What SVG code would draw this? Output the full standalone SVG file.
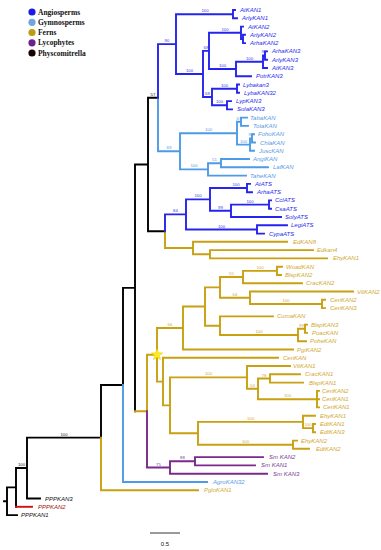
<svg xmlns="http://www.w3.org/2000/svg" width="381" height="550" viewBox="0 0 381 550">
<style>
.e{fill:none;stroke-width:1.9;stroke-linecap:square}
.k{stroke:#000}.r{stroke:#d01010}.b{stroke:#2424ee}.lb{stroke:#4d9be6}.g{stroke:#c8a010}.p{stroke:#7a2a8c}
.t{font-family:"Liberation Sans",Arial,sans-serif;font-style:italic;font-size:6px}
.tb{fill:#2a2aee}.tlb{fill:#5a9ae6}.tg{fill:#d2a830}.tp{fill:#7b3d93}.tk{fill:#111}.tr{fill:#a01010}
.s{font-family:"Liberation Sans",Arial,sans-serif;font-size:4.3px;text-anchor:middle}
.sb{fill:#3a3aee}.slb{fill:#5a9ae6}.sg{fill:#d6a640}.sp{fill:#7b3d93}.sk{fill:#222}
.lg{font-family:"Liberation Serif","Times New Roman",serif;font-weight:bold;font-size:7.5px;fill:#111}
</style>
<g id="legend">
<circle cx="32" cy="12" r="3.6" fill="#1a1ae6"/><text class="lg" x="38" y="14.6">Angiosperms</text>
<circle cx="32" cy="22.3" r="3.6" fill="#6fa6e0"/><text class="lg" x="38" y="24.9">Gymnosperms</text>
<circle cx="32" cy="32.5" r="3.6" fill="#b89e10"/><text class="lg" x="38" y="35.1">Ferns</text>
<circle cx="32" cy="42.8" r="3.6" fill="#6a2090"/><text class="lg" x="38" y="45.4">Lycophytes</text>
<circle cx="32" cy="53" r="3.6" fill="#1a0000"/><text class="lg" x="38" y="55.6">Physcomitrella</text>
</g>
<g id="connectors">
<path class="e k" d="M4,501.2H7M7,487.4V515.1M7,515.1H17M7,487.4H16M16,468V506.8M16,468H27M27,437.6V498.5M27,498.5H40M27,437.6H101M101,385V437.6M101,385H123M123,287.9V385M123,287.9H135M135,164.5V411.2M135,164.5H148M148,97.7V231.2M148,97.7H158M148,231.2H165"/>
<path class="e r" d="M16,506.8H32"/>
<path class="e g" d="M101,437.6V490.2M101,490.2H198M135,411.2H147M147,354.8V411.2M147,354.8H157M157,328V381.6M157,328H183M183,306.5V349.5M183,306.5H205M183,349.5H293M205,287.4V325.7M205,287.4H220M205,325.7H220M220,277V297.7M220,277H243M220,297.7H250M243,270.9V283.2M243,270.9H277M243,283.2H302M277,266.7V275M277,266.7H282M277,275H281M250,291.5V304M250,291.5H353M250,304H322M322,299.8V308.1M322,299.8H325M322,308.1H325M220,316.4V335M220,316.4H273M220,335H298M298,328.8V341.2M298,328.8H305M298,341.2H306M305,324.6V332.9M305,324.6H307M305,332.9H307M157,381.6H163M163,357.8V405.4M163,357.8H278M163,405.4H170M170,377.4V433.3M170,377.4H247M170,433.3H198M247,366V388.8M247,366H290M247,388.8H258M258,378.5V399.2M258,378.5H270M258,399.2H317M270,374.3V382.6M270,374.3H300M270,382.6H303M317,390.9V407.4M317,390.9H319M317,399.2H319M317,407.4H319M198,421.9V444.7M198,421.9H303M198,444.7H293M303,415.7V428.1M303,415.7H315M303,428.1H313M313,424V432.3M313,424H315M313,432.3H315M293,440.6V448.8M293,440.6H297M293,448.8H309M165,231.2V248M165,248H193M193,241.8V254.3M193,241.8H287M193,254.3H210M210,250.1V258.4M210,250.1H313M210,258.4H327"/>
<path class="e p" d="M147,411.2V467.5M147,467.5H170M170,461.3V473.7M170,461.3H195M170,473.7H267M195,457.1V465.4M195,457.1H263M195,465.4H255"/>
<path class="e lb" d="M123,385V482M123,482H207M158,97.7V151.3M158,151.3H180M180,133.2V169.4M180,133.2H237M180,169.4H208M237,121.8V144.6M237,121.8H241M237,144.6H250M241,117.6V125.9M241,117.6H247M241,125.9H248M250,138.4V150.8M250,138.4H252M250,150.8H254M252,134.2V142.5M252,134.2H254M252,142.5H255M208,163.2V175.6M208,163.2H221M208,175.6H246M221,159V167.3M221,159H249M221,167.3H268"/>
<path class="e b" d="M158,44.1V97.7M158,44.1H176M176,14.2V74M176,14.2H233M176,74H203M233,10V18.3M233,10H235M233,18.3H237M203,50.9V97M203,50.9H209M203,97H212M209,32.8V69M209,32.8H241M209,69H236M241,26.6V39M241,26.6H243M241,39H243M243,34.8V43.1M243,34.8H245M243,43.1H245M236,61.8V76.2M236,61.8H263M236,76.2H251M263,55.5V68M263,55.5H265M263,68H267M265,51.4V59.7M265,51.4H267M265,59.7H267M212,88.7V105.3M212,88.7H237M212,105.3H227M237,84.5V92.8M237,84.5H239M237,92.8H239M227,101.1V109.4M227,101.1H231M227,109.4H232M165,214.4V231.2M165,214.4H186M186,199.4V229.5M186,199.4H210M186,229.5H257M210,188V210.8M210,188H247M210,210.8H231M247,183.9V192.2M247,183.9H250M247,192.2H252M231,204.6V217M231,204.6H269M231,217H281M269,200.4V208.7M269,200.4H271M269,208.7H271M257,225.3V233.6M257,225.3H287M257,233.6H264"/>
</g>
<g id="support">
<text class="s sb" x="205" y="12.4">100</text><text class="s sb" x="167" y="42.1">90</text><text class="s sb" x="189.5" y="72">100</text><text class="s sb" x="225" y="30.8">100</text><text class="s sb" x="206" y="48.9">68</text><text class="s sb" x="249.5" y="59.8">100</text><text class="s sb" x="264" y="53.2">99</text><text class="s sb" x="222.5" y="67">100</text><text class="s sb" x="224.5" y="86.7">100</text><text class="s sb" x="219.5" y="103.3">100</text><text class="s sb" x="207.5" y="95">68</text>
<text class="s slb" x="239" y="119.8">61</text><text class="s slb" x="243.5" y="142.6">100</text><text class="s slb" x="251" y="136.3">99</text><text class="s slb" x="208.5" y="131.2">100</text><text class="s slb" x="214.5" y="161.2">51</text><text class="s slb" x="194" y="167.4">100</text><text class="s slb" x="169" y="149.3">69</text>
<text class="s sk" x="153" y="95.7">57</text>
<text class="s sb" x="236" y="186">100</text><text class="s sb" x="250" y="202.6">100</text><text class="s sb" x="220.5" y="208.8">99</text><text class="s sb" x="198" y="197.4">100</text><text class="s sb" x="221.5" y="227.5">100</text><text class="s sb" x="175.5" y="212.4">84</text>
<text class="s sg" x="260" y="268.9">100</text><text class="s sg" x="231.5" y="275">55</text><text class="s sg" x="286" y="302">100</text><text class="s sg" x="235" y="295.7">64</text><text class="s sg" x="259" y="333">100</text><text class="s sg" x="301.5" y="326.8">99</text><text class="s sg" x="170" y="326">66</text><text class="s sg" x="264" y="376.5">78</text><text class="s sg" x="287.5" y="397.2">100</text><text class="s sg" x="252.5" y="386.8">54</text><text class="s sg" x="208.5" y="375.4">100</text><text class="s sg" x="308" y="426.1">100</text><text class="s sg" x="250.5" y="419.9">100</text><text class="s sg" x="245.5" y="442.7">100</text>
<text class="s sp" x="182.5" y="459.3">88</text><text class="s sp" x="158.5" y="465.5">75</text>
<text class="s sk" x="64" y="435.6">100</text><text class="s sk" x="21.5" y="466">100</text>
</g>
<g id="star"><polygon points="157,348.8 158.47,352.78 162.71,352.95 159.38,355.57 160.53,359.65 157,357.3 153.47,359.65 154.62,355.57 151.29,352.95 155.53,352.78" fill="#ffec1a" stroke="#e8c800" stroke-width="0.5"/></g>
<g id="leaves">
<g id="AtKAN1"><text class="t tb" x="240" y="12">AtKAN1</text></g>
<g id="ArlyKAN1"><text class="t tb" x="242" y="20.3">ArlyKAN1</text></g>
<g id="AtKAN2"><text class="t tb" x="248" y="28.6">AtKAN2</text></g>
<g id="ArlyKAN2"><text class="t tb" x="250" y="36.8">ArlyKAN2</text></g>
<g id="ArhaKAN2"><text class="t tb" x="250" y="45.1">ArhaKAN2</text></g>
<g id="ArhaKAN3"><text class="t tb" x="272" y="53.4">ArhaKAN3</text></g>
<g id="ArlyKAN3"><text class="t tb" x="272" y="61.7">ArlyKAN3</text></g>
<g id="AtKAN3"><text class="t tb" x="272" y="70">AtKAN3</text></g>
<g id="PotrKAN3"><text class="t tb" x="256" y="78.2">PotrKAN3</text></g>
<g id="Lybakan3"><text class="t tb" x="243" y="86.5">Lybakan3</text></g>
<g id="LybaKAN32"><text class="t tb" x="244" y="94.8">LybaKAN32</text></g>
<g id="LypKAN3"><text class="t tb" x="236" y="103.1">LypKAN3</text></g>
<g id="SolaKAN3"><text class="t tb" x="237" y="111.4">SolaKAN3</text></g>
<g id="TabaKAN"><text class="t tlb" x="250" y="119.6">TabaKAN</text></g>
<g id="TotaKAN"><text class="t tlb" x="253" y="127.9">TotaKAN</text></g>
<g id="FohoKAN"><text class="t tlb" x="258" y="136.2">FohoKAN</text></g>
<g id="ChlaKAN"><text class="t tlb" x="260" y="144.5">ChlaKAN</text></g>
<g id="JuscKAN"><text class="t tlb" x="259" y="152.8">JuscKAN</text></g>
<g id="AngiKAN"><text class="t tlb" x="253" y="161">AngiKAN</text></g>
<g id="LafKAN"><text class="t tlb" x="273" y="169.3">LafKAN</text></g>
<g id="TaheKAN"><text class="t tlb" x="250" y="177.6">TaheKAN</text></g>
<g id="AtATS"><text class="t tb" x="255" y="185.9">AtATS</text></g>
<g id="ArhaATS"><text class="t tb" x="257" y="194.2">ArhaATS</text></g>
<g id="CclATS"><text class="t tb" x="275" y="202.4">CclATS</text></g>
<g id="CsaATS"><text class="t tb" x="275" y="210.7">CsaATS</text></g>
<g id="SolyATS"><text class="t tb" x="285" y="219">SolyATS</text></g>
<g id="LegiATS"><text class="t tb" x="291" y="227.3">LegiATS</text></g>
<g id="CypaATS"><text class="t tb" x="269" y="235.6">CypaATS</text></g>
<g id="EdKAN8"><text class="t tg" x="293" y="243.8">EdKAN8</text></g>
<g id="Edkan4"><text class="t tg" x="317" y="252.1">Edkan4</text></g>
<g id="EhyKAN1a"><text class="t tg" x="333" y="260.4">EhyKAN1</text></g>
<g id="WoadKAN"><text class="t tg" x="286" y="268.7">WoadKAN</text></g>
<g id="BlspKAN2"><text class="t tg" x="285" y="277">BlspKAN2</text></g>
<g id="CracKAN2"><text class="t tg" x="306" y="285.2">CracKAN2</text></g>
<g id="VitKAN2"><text class="t tg" x="357" y="293.5">VitKAN2</text></g>
<g id="CeriKAN2a"><text class="t tg" x="330" y="301.8">CeriKAN2</text></g>
<g id="CeriKAN3"><text class="t tg" x="330" y="310.1">CeriKAN3</text></g>
<g id="CumaKAN"><text class="t tg" x="277" y="318.4">CumaKAN</text></g>
<g id="BlspKAN3"><text class="t tg" x="311" y="326.6">BlspKAN3</text></g>
<g id="PoacKAN"><text class="t tg" x="312" y="334.9">PoacKAN</text></g>
<g id="PoheKAN"><text class="t tg" x="310" y="343.2">PoheKAN</text></g>
<g id="PgiKAN2"><text class="t tg" x="297" y="351.5">PgiKAN2</text></g>
<g id="CeriKAN"><text class="t tg" x="283" y="359.8">CeriKAN</text></g>
<g id="VitKAN1"><text class="t tg" x="293" y="368">VitKAN1</text></g>
<g id="CracKAN1"><text class="t tg" x="305" y="376.3">CracKAN1</text></g>
<g id="BlspKAN1"><text class="t tg" x="309" y="384.6">BlspKAN1</text></g>
<g id="CeriKAN2b"><text class="t tg" x="322" y="392.9">CeriKAN2</text></g>
<g id="CeriKAN1a"><text class="t tg" x="322" y="401.2">CeriKAN1</text></g>
<g id="CeriKAN1b"><text class="t tg" x="323" y="409.4">CeriKAN1</text></g>
<g id="EhyKAN1b"><text class="t tg" x="320" y="417.7">EhyKAN1</text></g>
<g id="EdtKAN1"><text class="t tg" x="320" y="426">EdtKAN1</text></g>
<g id="EdtKAN3"><text class="t tg" x="320" y="434.3">EdtKAN3</text></g>
<g id="EhyKAN2"><text class="t tg" x="301" y="442.6">EhyKAN2</text></g>
<g id="EdtKAN2"><text class="t tg" x="316" y="450.8">EdtKAN2</text></g>
<g id="SmKAN2"><text class="t tp" x="269" y="459.1">Sm KAN2</text></g>
<g id="SmKAN1"><text class="t tp" x="261" y="467.4">Sm KAN1</text></g>
<g id="SmKAN3"><text class="t tp" x="273" y="475.7">Sm KAN3</text></g>
<g id="AgroKAN32"><text class="t tlb" x="213" y="484">AgroKAN32</text></g>
<g id="PgloKAN1"><text class="t tg" x="204" y="492.2">PgloKAN1</text></g>
<g id="PPPKAN3"><text class="t tk" x="45" y="500.5">PPPKAN3</text></g>
<g id="PPPKAN2"><text class="t tr" x="38" y="508.8">PPPKAN2</text></g>
<g id="PPPKAN1"><text class="t tk" x="21" y="517.1">PPPKAN1</text></g>
</g>
<g id="scale">
<path d="M150,533H180" stroke="#000" stroke-width="0.8"/>
<text x="165" y="546" font-family="Liberation Sans,Arial,sans-serif" font-size="6" text-anchor="middle" fill="#111">0.5</text>
</g>
</svg>
